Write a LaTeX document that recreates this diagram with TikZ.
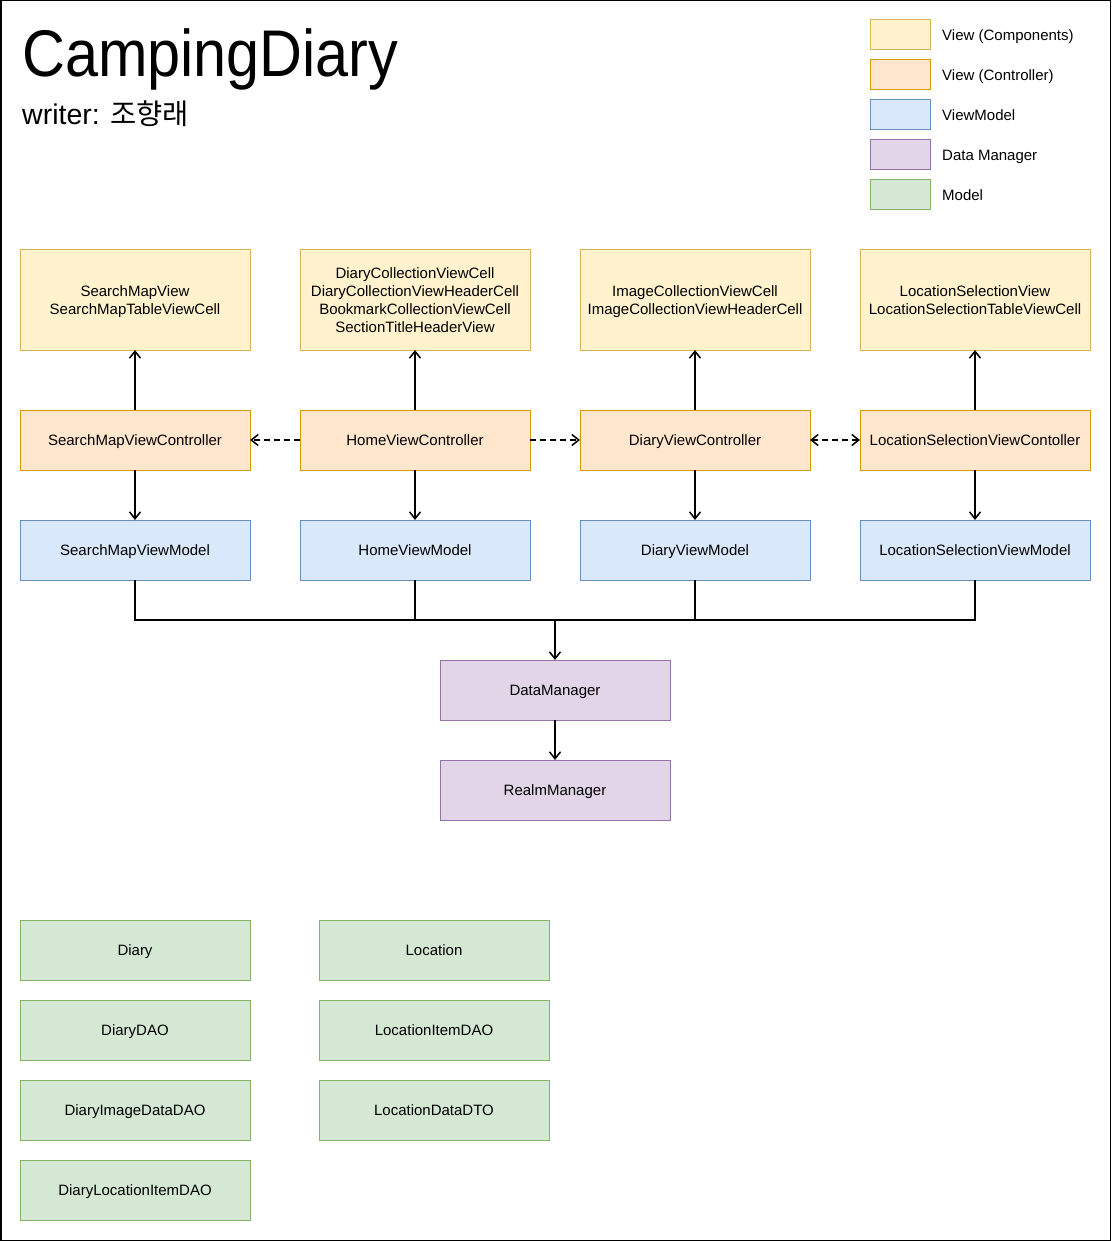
\documentclass[tikz,border=0pt]{standalone}
\usepackage{fontspec}
\setmainfont{Liberation Sans}
\newfontfamily\krfont{Noto Sans CJK KR}
\usetikzlibrary{arrows.meta}
\definecolor{ylwF}{HTML}{FFF2CC}\definecolor{ylwD}{HTML}{D6B656}
\definecolor{orgF}{HTML}{FFE6CC}\definecolor{orgD}{HTML}{D79B00}
\definecolor{bluF}{HTML}{DAE8FC}\definecolor{bluD}{HTML}{6C8EBF}
\definecolor{purF}{HTML}{E1D5E7}\definecolor{purD}{HTML}{9673A6}
\definecolor{grnF}{HTML}{D5E8D4}\definecolor{grnD}{HTML}{82B366}
\newcommand\bxstrut{\rule[-3.6pt]{0pt}{18pt}}
\begin{document}
\begin{tikzpicture}[x=1pt,y=-1pt,
  font=\fontsize{15}{18}\selectfont,
  box/.style={draw, line width=1pt, minimum width=230pt, minimum height=60pt, inner sep=0pt, outer sep=0pt, align=center,
    execute at begin node=\bxstrut, execute at end node=\bxstrut},
  compbox/.style={box, fill=ylwF, draw=ylwD, minimum height=100pt},
  ctrlbox/.style={box, fill=orgF, draw=orgD},
  vmbox/.style={box, fill=bluF, draw=bluD},
  dmbox/.style={box, fill=purF, draw=purD},
  mdlbox/.style={box, fill=grnF, draw=grnD},
  legbox/.style={draw, line width=1pt, minimum width=60pt, minimum height=30pt, inner sep=0pt},
  legtext/.style={anchor=west, inner sep=0pt, execute at begin node=\bxstrut},
  conn/.style={line width=1.5pt, -{Straight Barb[length=7pt,width=11pt,line width=1.5pt]}},
  dconn/.style={conn, dash pattern=on 6pt off 4pt},
]
\useasboundingbox (0,0) rectangle (1111,1241);
\draw[line width=1.5pt] (0.75,0.75) rectangle (1110.25,1240.25);

% title
\node[anchor=base west, inner sep=0pt, font=\fontsize{66}{70}\selectfont] (title) at (22,77) {\scalebox{0.9}[1]{CampingDiary}};
\node[anchor=base west, inner sep=0pt, font=\fontsize{28.5}{32}\selectfont] (writer) at (22,125) {writer: {\krfont 조향래}};

% legend
\node[legbox, fill=ylwF, draw=ylwD] (lg1) at (900,35) {};
\node[legbox, fill=orgF, draw=orgD] (lg2) at (900,75) {};
\node[legbox, fill=bluF, draw=bluD] (lg3) at (900,115) {};
\node[legbox, fill=purF, draw=purD] (lg4) at (900,155) {};
\node[legbox, fill=grnF, draw=grnD] (lg5) at (900,195) {};
\node[legtext] (lt1) at (942,35) {View (Components)};
\node[legtext] (lt2) at (942,75) {View (Controller)};
\node[legtext] (lt3) at (942,115) {ViewModel};
\node[legtext] (lt4) at (942,155) {Data Manager};
\node[legtext] (lt5) at (942,195) {Model};

% components
\node[compbox] (c1) at (135,300) {\bxstrut SearchMapView\\SearchMapTableViewCell\bxstrut};
\node[compbox] (c2) at (415,300) {\bxstrut DiaryCollectionViewCell\\DiaryCollectionViewHeaderCell\\BookmarkCollectionViewCell\\SectionTitleHeaderView\bxstrut};
\node[compbox] (c3) at (695,300) {\bxstrut ImageCollectionViewCell\\ImageCollectionViewHeaderCell\bxstrut};
\node[compbox] (c4) at (975,300) {\bxstrut LocationSelectionView\\LocationSelectionTableViewCell\bxstrut};

% controllers
\node[ctrlbox] (v1) at (135,440) {SearchMapViewController};
\node[ctrlbox] (v2) at (415,440) {HomeViewController};
\node[ctrlbox] (v3) at (695,440) {DiaryViewController};
\node[ctrlbox] (v4) at (975,440) {LocationSelectionViewContoller};

% view models
\node[vmbox] (m1) at (135,550) {SearchMapViewModel};
\node[vmbox] (m2) at (415,550) {HomeViewModel};
\node[vmbox] (m3) at (695,550) {DiaryViewModel};
\node[vmbox] (m4) at (975,550) {LocationSelectionViewModel};

% managers
\node[dmbox] (dm) at (555,690) {DataManager};
\node[dmbox] (rm) at (555,790) {RealmManager};

% models
\node[mdlbox] (d1) at (135,950) {Diary};
\node[mdlbox] (d2) at (135,1030) {DiaryDAO};
\node[mdlbox] (d3) at (135,1110) {DiaryImageDataDAO};
\node[mdlbox] (d4) at (135,1190) {DiaryLocationItemDAO};
\node[mdlbox] (l1) at (434,950) {Location};
\node[mdlbox] (l2) at (434,1030) {LocationItemDAO};
\node[mdlbox] (l3) at (434,1110) {LocationDataDTO};

% controller -> components / view models
\foreach \i in {1,2,3,4} {
  \draw[conn] (v\i.north) -- (c\i.south);
  \draw[conn] (v\i.south) -- (m\i.north);
}
% dashed
\draw[dconn] (v2.west) -- (v1.east);
\draw[dconn] (v2.east) -- (v3.west);
\draw[dconn, {Straight Barb[length=7pt,width=11pt,line width=1.5pt]}-{Straight Barb[length=7pt,width=11pt,line width=1.5pt]}] (v3.east) -- (v4.west);

% bus
\coordinate (bus) at (555,620);
\foreach \i in {1,2,3,4} {
  \draw[line width=1.5pt] (m\i.south) |- (bus);
}
\draw[conn, line width=2.2pt] (bus) -- (dm.north);
\draw[conn] (dm.south) -- (rm.north);
\end{tikzpicture}
\end{document}
